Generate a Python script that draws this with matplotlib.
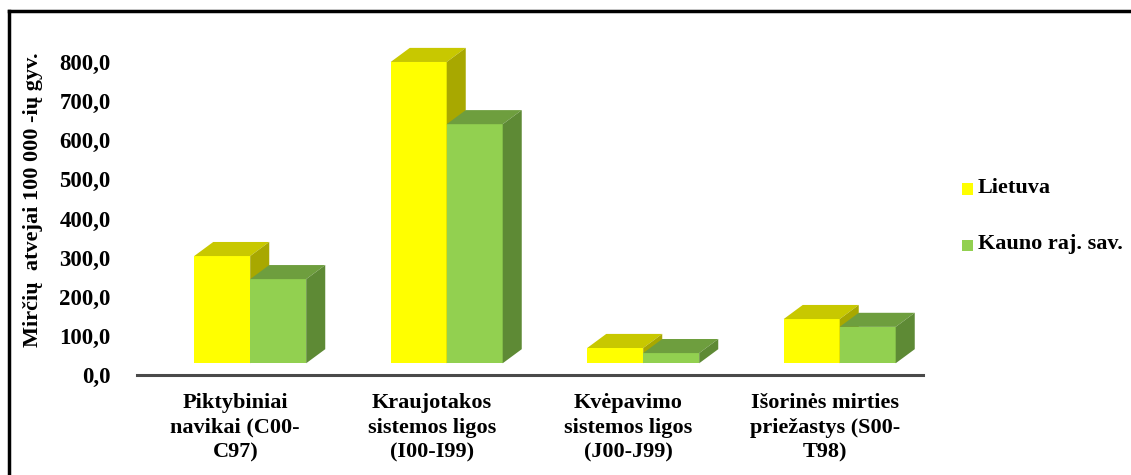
import matplotlib
matplotlib.use("Agg")
import matplotlib.pyplot as plt
from matplotlib.patches import Polygon, Rectangle
from matplotlib.lines import Line2D

# data
categories = [
    "Piktybiniai\nnavikai (C00-\nC97)",
    "Kraujotakos\nsistemos ligos\n(I00-I99)",
    "Kvėpavimo\nsistemos ligos\n(J00-J99)",
    "Išorinės mirties\npriežastys (S00-\nT98)",
]
series_names = ["Lietuva", "Kauno raj. sav."]
lietuva = [304.0, 800.0, 69.0, 143.0]
kauno = [245.0, 641.0, 56.0, 123.0]
yticks = [0, 100, 200, 300, 400, 500, 600, 700, 800]

plt.rcParams["font.family"] = ["Liberation Serif", "DejaVu Serif"]
plt.rcParams["font.weight"] = "bold"

W, H = 1131, 475
fig = plt.figure(figsize=(W / 100, H / 100), dpi=100)
ax = fig.add_axes([137 / W, 100 / H, 786 / W, 336.5 / H])

# colours for front / top / side of each series
faces = [
    ("#FFFF00", "#C8C800", "#A8A800"),
    ("#92D050", "#6E9E3E", "#5E8A35"),
]

bar_w = 0.285
start = -0.209
dx = 0.097
dy = 36.0
lift = 30.0

def draw_bar(x0, val, cols):
    front, top, side = cols
    ax.add_patch(Polygon([(x0, lift), (x0 + bar_w, lift), (x0 + bar_w, val), (x0, val)],
                         closed=True, fc=front, ec="none"))
    ax.add_patch(Polygon([(x0, val), (x0 + bar_w, val), (x0 + bar_w + dx, val + dy), (x0 + dx, val + dy)],
                         closed=True, fc=top, ec="none"))
    ax.add_patch(Polygon([(x0 + bar_w, lift), (x0 + bar_w + dx, lift + dy),
                          (x0 + bar_w + dx, val + dy), (x0 + bar_w, val)],
                         closed=True, fc=side, ec="none"))

for i in range(len(categories)):
    for s, vals in enumerate([lietuva, kauno]):
        draw_bar(i + start + s * bar_w, vals[i], faces[s])

ax.set_xlim(-0.5, 3.5)
ax.set_ylim(0, 860)
ax.set_yticks(yticks)
ax.set_yticklabels([f"{t:.1f}".replace(".", ",") for t in yticks], fontsize=16.5, fontweight="bold")
ax.set_xticks(range(len(categories)))
ax.set_xticklabels(categories, fontsize=16, fontweight="bold", linespacing=1.32)
ax.tick_params(length=0)
ax.tick_params(axis="y", pad=19)
ax.tick_params(axis="x", pad=13)
for sp in ["top", "right", "left"]:
    ax.spines[sp].set_visible(False)
ax.spines["bottom"].set_color("#4a4a4a")
ax.spines["bottom"].set_linewidth(2.2)

fig.text(33 / W, 1 - 200 / H, "Mirčių  atvejai 100 000 -ių gyv.", rotation=90,
         ha="center", va="center", fontsize=16, fontweight="bold")

# legend
for k, name in enumerate(series_names):
    yc = 189 + k * 56
    fig.add_artist(Rectangle((962 / W, 1 - (yc + 5.5) / H), 11 / W, 11 / H,
                             transform=fig.transFigure, fc=faces[k][0], ec="none"))
    fig.text(978 / W, 1 - (yc - 1) / H, name, ha="left", va="center", fontsize=16, fontweight="bold")

# outer frame (left and top edges visible)
fig.add_artist(Line2D([9 / W, 9 / W], [0, 1 - 11 / H], transform=fig.transFigure, color="black", lw=2.5))
fig.add_artist(Line2D([9 / W, 1], [1 - 11 / H, 1 - 11 / H], transform=fig.transFigure, color="black", lw=2.5))

fig.savefig("out.png", dpi=100)
